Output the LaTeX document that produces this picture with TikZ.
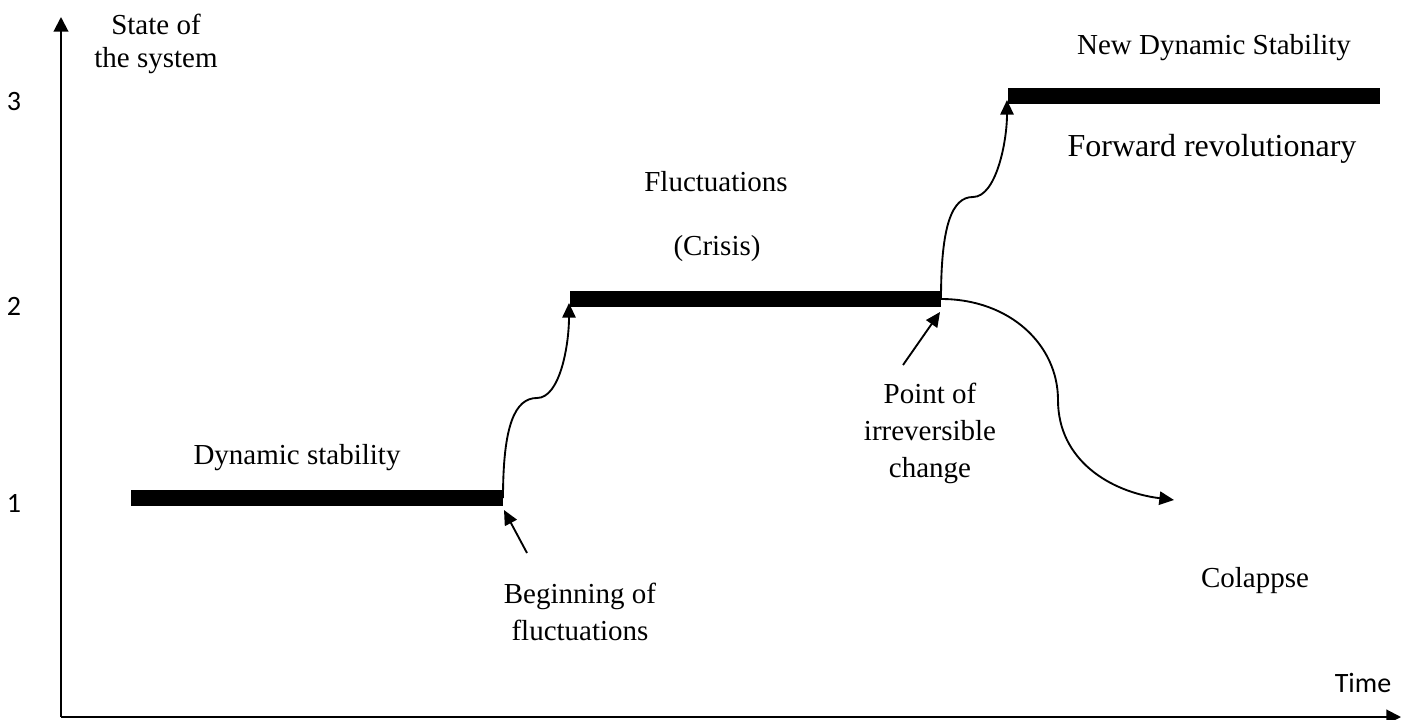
\documentclass[tikz,border=0pt]{standalone}
\usepackage{fontspec}
\setmainfont{Liberation Serif}
\newfontfamily\ticksans{Carlito}
\usetikzlibrary{arrows.meta}

\begin{document}
\begin{tikzpicture}[x=0.75pt, y=-0.75pt,
						font=\fontsize{21.75}{27.75}\selectfont,
						axis/.style = {line width=1.5pt, -{Triangle[length=11pt, width=11pt]}},
						level/.style = {line width=12pt},
						line/.style = {line width=1.4pt, -{Triangle[length=11pt, width=10pt]}},
						txt/.style = {anchor=base, align=center, inner sep=0pt},
						tick/.style = {font=\ticksans\fontsize{21}{25}\selectfont, inner sep=0pt}
						]
						\useasboundingbox (0,0) rectangle (1408,720);

						% --- Ejes ---
						\coordinate (origin) at (61,717);
						\coordinate (ytop) at (61,17);
						\coordinate (xend) at (1401,717);
						\draw[axis] (origin) -- (ytop);
						\draw[axis] (origin) -- (xend);
						\node[tick] (lvl1) at (14,503) {1};
						\node[tick] (lvl2) at (14,306) {2};
						\node[tick] (lvl3) at (14,102) {3};
						\node[tick] (time) at (1363,683) {Time};
						\node[txt, font=\fontsize{21.75}{24.75}\selectfont] (state) at (156,68) {State of\\the system};

						% --- Niveles ---
						\coordinate (s1a) at (131,498);
						\coordinate (s1b) at (503,498);
						\coordinate (s2a) at (570,299);
						\coordinate (s2b) at (941,299);
						\coordinate (s3a) at (1008,96);
						\coordinate (s3b) at (1380,96);
						\draw[level] (s1a) -- (s1b);
						\draw[level] (s2a) -- (s2b);
						\draw[level] (s3a) -- (s3b);

						% --- Textos ---
						\node[txt] (stab) at (297,464) {Dynamic stability};
						\node[txt] (fluct) at (716,192) {Fluctuations};
						\node[txt] (crisis) at (717,255) {(Crisis)};
						\node[txt] (newstab) at (1214,55) {New Dynamic Stability};
						\node[txt, font=\fontsize{24}{28}\selectfont] (forward) at (1212,157) {Forward revolutionary};
						\node[txt] (begin) at (580,640) {Beginning of\\fluctuations};
						\node[txt] (point) at (930,477) {Point of\\irreversible\\change};
						\node[txt] (collapse) at (1255,587) {Colappse};

						% --- Transiciones ---
						\coordinate (tip2) at (569,303);
						\coordinate (tip3) at (1007,100);
						\coordinate (tipc) at (1174,500);
						\draw[line] (s1b) .. controls (503,425) and (515,398) .. (537,398)
							.. controls (560,398) and (569,345) .. (tip2);
						\draw[line] (s2b) .. controls (941,225) and (952,197) .. (973,197)
							.. controls (996,197) and (1007,142) .. (tip3);
						\draw[line] (s2b) .. controls (1010,299) and (1058,345) .. (1058,400)
							.. controls (1058,460) and (1110,492) .. (tipc);

						% --- Flechas de etiquetas ---
						\coordinate (begtail) at (527,553);
						\coordinate (begtip) at (504,510);
						\coordinate (pointtail) at (903,365);
						\coordinate (pointtip) at (940,312);
						\draw[line] (begtail) -- (begtip);
						\draw[line] (pointtail) -- (pointtip);

					\end{tikzpicture}
\end{document}
